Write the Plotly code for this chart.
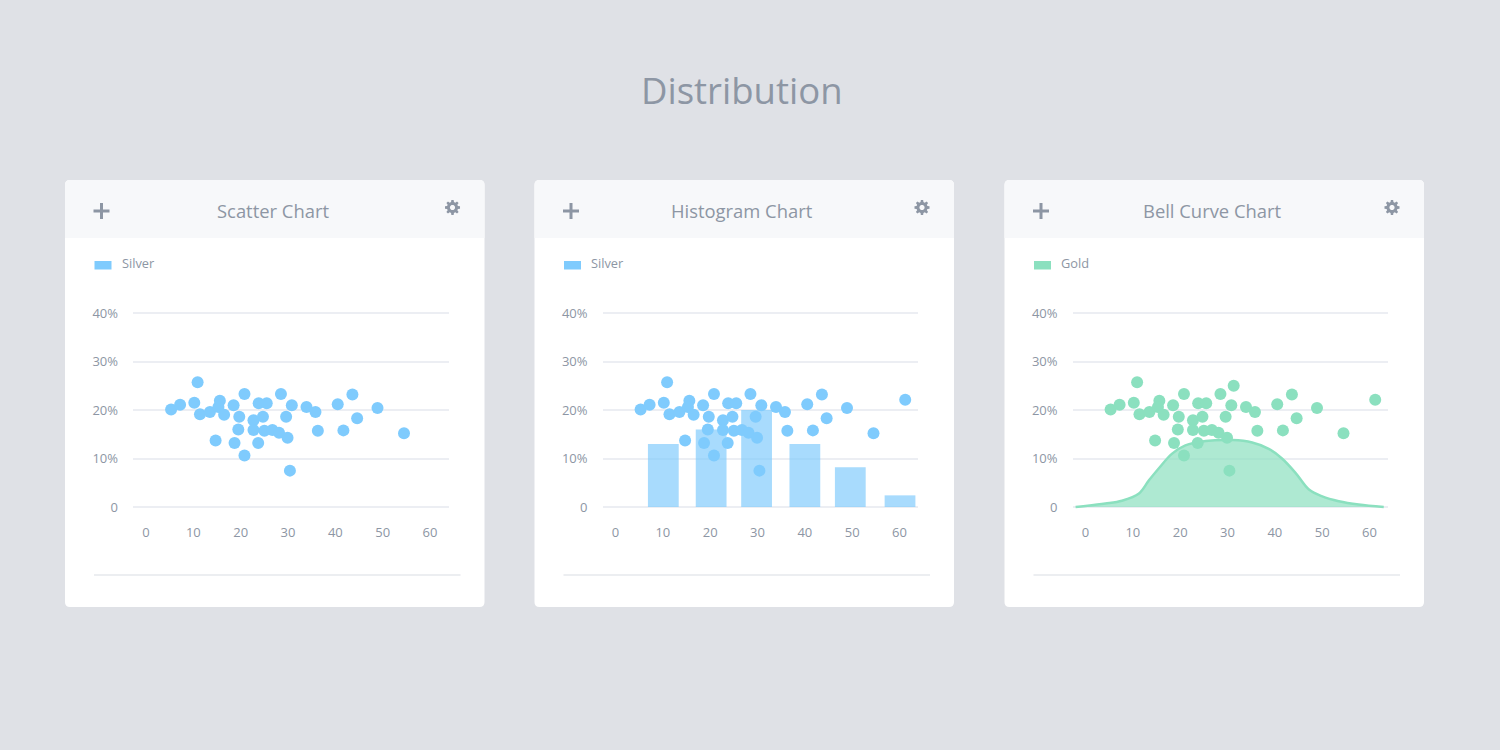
import math
import plotly.graph_objects as go

W, H = 1500, 750

# scatter values
scatter_x = [5.3, 7.2, 10.2, 11.4, 13.5, 10.9, 15.6, 15.3, 16.5, 18.5, 20.8, 19.7, 19.5, 18.7, 14.7, 20.8,
             22.7, 22.7, 24.7, 23.8, 25.5, 25.0, 26.7, 28.1, 29.9, 23.7, 29.6, 28.5, 30.8, 30.4, 33.9, 35.8,
             36.3, 40.5, 41.7, 43.6, 44.6, 48.9, 54.5]
scatter_y = [20.1, 21.1, 21.5, 19.1, 19.6, 25.7, 21.9, 20.6, 19.0, 21.0, 23.3, 18.6, 16.0, 13.2, 13.7, 10.6,
             17.9, 15.9, 18.6, 21.4, 21.4, 15.7, 15.9, 15.3, 14.3, 13.2, 18.6, 23.3, 21.0, 7.5, 20.6, 19.6,
             15.7, 21.2, 15.8, 23.2, 18.3, 20.4, 15.2]

# the histogram panel has one more point, the bell curve panel two
hist_extra_x = [61.2]
hist_extra_y = [22.1]
bell_extra_x = [61.2, 31.3]
bell_extra_y = [22.1, 25.0]

bar_x = [10.1, 20.2, 29.8, 40.0, 49.6, 60.1]
bar_y = [13.0, 16.0, 20.0, 13.0, 8.2, 2.4]

curve_x = [-2.1, 0, 4.2, 7.7, 11.3, 13.4, 15.5, 18.3, 21.1, 25.4, 31.0, 35.2, 38.7, 41.5, 44.4, 47.2, 50.0, 53.5, 57.7, 63.0]
curve_y = [0, 0.2, 0.7, 1.3, 2.8, 5.5, 8.0, 11.0, 12.7, 13.6, 13.8, 13.3, 12.0, 10.0, 7.0, 3.6, 2.2, 1.2, 0.5, 0]

x_ticks = [0, 10, 20, 30, 40, 50, 60]
y_ticks = [0, 10, 20, 30, 40]
y_labels = ['0', '10%', '20%', '30%', '40%']

card_titles = ['Scatter Chart', 'Histogram Chart', 'Bell Curve Chart']
legend_names = ['Silver', 'Silver', 'Gold']

BG = '#dfe1e6'
HEADER = '#f7f8fa'
GRID = '#eceef3'
TEXT = '#8d96a4'
BLUE = '#7fcbfd'
GREEN = '#8be0bf'
FONT = 'Open Sans'

CARD_LEFT = [65, 534.5, 1004.5]
CARD_W = 419.5
CARD_TOP, CARD_BOTTOM, HEADER_BOTTOM = 180, 607, 238


def px(x):
    return x / W


def py(y):
    return 1 - y / H


def rounded(x0, y0, x1, y1, r_top, r_bottom):
    # path in paper coordinates with rounded corners
    p = lambda x, y: f'{px(x):.5f},{py(y):.5f}'
    return (f'M{p(x0 + r_top, y0)} L{p(x1 - r_top, y0)} Q{p(x1, y0)} {p(x1, y0 + r_top)} '
            f'L{p(x1, y1 - r_bottom)} Q{p(x1, y1)} {p(x1 - r_bottom, y1)} '
            f'L{p(x0 + r_bottom, y1)} Q{p(x0, y1)} {p(x0, y1 - r_bottom)} '
            f'L{p(x0, y0 + r_top)} Q{p(x0, y0)} {p(x0 + r_top, y0)} Z')


def gear(cx, cy, r_out=7.6, r_in=5.6, hole=2.6, teeth=8):
    pts = []
    for i in range(teeth):
        a = 2 * math.pi * i / teeth
        for da, r in [(-0.26, r_in), (-0.15, r_out), (0.15, r_out), (0.26, r_in)]:
            pts.append((cx + r * math.cos(a + da), cy + r * math.sin(a + da)))
    d = 'M' + ' L'.join(f'{px(x):.5f},{py(y):.5f}' for x, y in pts) + ' Z '
    ring = [(cx + hole * math.cos(2 * math.pi * i / 16), cy + hole * math.sin(2 * math.pi * i / 16)) for i in range(16)]
    d += 'M' + ' L'.join(f'{px(x):.5f},{py(y):.5f}' for x, y in ring) + ' Z'
    return d


fig = go.Figure()
shapes = []
annotations = [dict(text='Distribution', x=px(742), y=py(90), xref='paper', yref='paper', showarrow=False,
                    xanchor='center', yanchor='middle', font=dict(family=FONT, size=36.5, color=TEXT))]

for i, left in enumerate(CARD_LEFT):
    right = left + CARD_W
    shapes.append(dict(type='path', path=rounded(left, CARD_TOP, right, CARD_BOTTOM, 5, 5), xref='paper', yref='paper',
                       fillcolor='white', line_width=0, layer='below'))
    shapes.append(dict(type='path', path=rounded(left, CARD_TOP, right, HEADER_BOTTOM, 5, 0), xref='paper', yref='paper',
                       fillcolor=HEADER, line_width=0, layer='below'))
    # plus icon
    shapes.append(dict(type='rect', xref='paper', yref='paper', x0=px(left + 28.5), x1=px(left + 44.5),
                       y0=py(212.5), y1=py(209.5), fillcolor=TEXT, line_width=0))
    shapes.append(dict(type='rect', xref='paper', yref='paper', x0=px(left + 35), x1=px(left + 38),
                       y0=py(219), y1=py(203), fillcolor=TEXT, line_width=0))
    # gear icon
    shapes.append(dict(type='path', path=gear(left + 387.5, 207.5), xref='paper', yref='paper',
                       fillcolor=TEXT, line_width=0))
    # legend swatch
    color = GREEN if i == 2 else BLUE
    shapes.append(dict(type='rect', xref='paper', yref='paper', x0=px(left + 29.5), x1=px(left + 46.5),
                       y0=py(269.5), y1=py(261), fillcolor=color, line_width=0))
    # rule under the chart
    shapes.append(dict(type='line', xref='paper', yref='paper', x0=px(left + 29), x1=px(left + 395.5),
                       y0=py(575), y1=py(575), line=dict(color='#e6e8ed', width=1.5)))

    annotations.append(dict(text=card_titles[i], x=px(left + 207.5), y=py(210), xref='paper', yref='paper',
                            showarrow=False, xanchor='center', yanchor='middle',
                            font=dict(family=FONT, size=18.4, color=TEXT)))
    annotations.append(dict(text=legend_names[i], x=px(left + 54.5), y=py(263.5), xref='paper', yref='paper',
                            showarrow=False, xanchor='left', yanchor='middle',
                            font=dict(family=FONT, size=12.8, color=TEXT)))

    # axes: 4.733 px per x unit, 4.85 px per percent; y range padded so the 0 and 40% grid lines still draw
    suffix = '' if i == 0 else str(i + 1)
    plot_left = left + 68
    axis_x = dict(domain=[px(plot_left), px(plot_left + 315.5)], range=[-2.75, 63.9], tickmode='array',
                  tickvals=x_ticks, showgrid=False, zeroline=False, showline=False, ticks='', automargin=False,
                  ticklabelstandoff=14, tickfont=dict(family=FONT, size=13, color=TEXT), anchor='y' + suffix)
    axis_y = dict(domain=[py(509.425), py(310.575)], range=[-0.5, 40.5], tickmode='array', tickvals=y_ticks,
                  ticktext=y_labels, gridcolor=GRID, gridwidth=2, zeroline=False, showline=False, ticks='',
                  automargin=False, ticklabelstandoff=14, tickfont=dict(family=FONT, size=13, color=TEXT),
                  anchor='x' + suffix)
    fig.update_layout({'xaxis' + suffix: axis_x, 'yaxis' + suffix: axis_y})

dot = dict(size=12, line_width=0)

fig.add_trace(go.Scatter(x=scatter_x, y=scatter_y, mode='markers', marker=dict(color=BLUE, **dot),
                         xaxis='x', yaxis='y', cliponaxis=False))

fig.add_trace(go.Bar(x=bar_x, y=bar_y, width=6.5, marker=dict(color=BLUE, line_width=0), opacity=0.68,
                     xaxis='x2', yaxis='y2'))
fig.add_trace(go.Scatter(x=scatter_x + hist_extra_x, y=scatter_y + hist_extra_y, mode='markers',
                         marker=dict(color=BLUE, **dot), xaxis='x2', yaxis='y2', cliponaxis=False))

fig.add_trace(go.Scatter(x=scatter_x + bell_extra_x, y=scatter_y + bell_extra_y, mode='markers',
                         marker=dict(color=GREEN, **dot), xaxis='x3', yaxis='y3', cliponaxis=False))
fig.add_trace(go.Scatter(x=curve_x, y=curve_y, mode='lines', line=dict(color=GREEN, width=2.5, shape='spline', smoothing=1.0),
                         fill='tozeroy', fillcolor='rgba(139,224,191,0.7)', xaxis='x3', yaxis='y3', cliponaxis=False))

fig.update_layout(width=W, height=H, margin=dict(l=0, r=0, t=0, b=0), paper_bgcolor=BG, plot_bgcolor='rgba(0,0,0,0)',
                  showlegend=False, shapes=shapes, annotations=annotations, hovermode=False)

# the browser's default body margin would shift the whole page by 8px
fig.write_html("out.html", config={'displayModeBar': False}, post_script="document.body.style.margin = '0';")
